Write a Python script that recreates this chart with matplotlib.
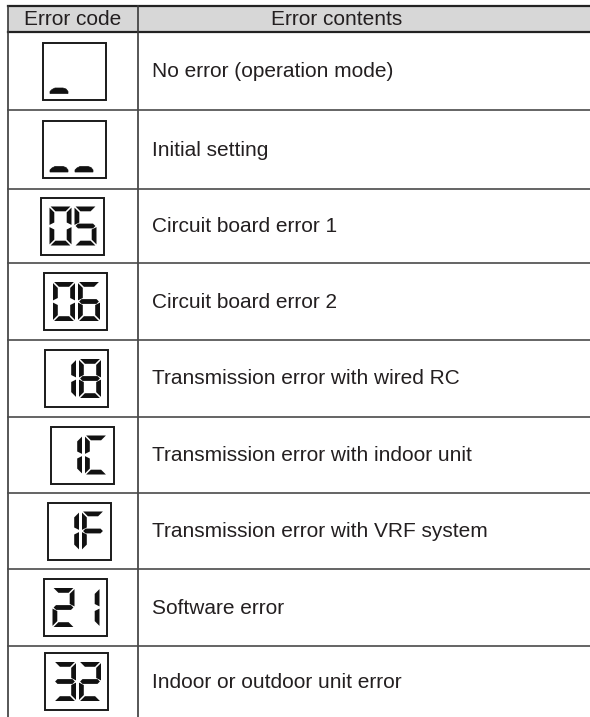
import matplotlib
matplotlib.use("Agg")
import matplotlib.pyplot as plt
from matplotlib.patches import Rectangle, Polygon

plt.rcParams['font.family'] = ['Liberation Sans', 'DejaVu Sans']

# table contents
headers = ["Error code", "Error contents"]
codes = ["_ ", "__", "05", "06", "18", "1C", "1F", "21", "32"]
contents = ["No error (operation mode)",
            "Initial setting",
            "Circuit board error 1",
            "Circuit board error 2",
            "Transmission error with wired RC",
            "Transmission error with indoor unit",
            "Transmission error with VRF system",
            "Software error",
            "Indoor or outdoor unit error"]

# which segments light up for each character
SEGMENTS = {'0': 'abcdef', '1': 'bc', '2': 'abdeg', '3': 'abcdg',
            '5': 'acdfg', '6': 'acdefg', '8': 'abcdefg',
            'C': 'adef', 'F': 'aefg', '_': '', ' ': ''}

# layout (pixels, figure is 590x717)
W, H = 590, 717
left_x, div_x = 8, 138
head_top, head_bot = 6, 32
row_edges = [32, 110, 189, 263, 340, 417, 493, 569, 646, 717]
box_cx = [74.5, 74.5, 72, 75.5, 76.5, 82.5, 79.5, 75, 76.5]
box_w, box_h = 63, 57
cell_w, cell_h, thick, gap = 22, 39, 4.8, 1.1

line_col = '#3a3a3a'
ink = '#111111'
text_col = '#231f20'


def seg_polys(x, y, segs):
    # trapezoid outer segments, hexagon middle one
    t, g = thick, gap
    mid = y + cell_h / 2.0
    r = x + cell_w
    b = y + cell_h
    polys = {
        'a': [(x + g, y), (r - g, y), (r - g - t, y + t), (x + g + t, y + t)],
        'd': [(x + g, b), (r - g, b), (r - g - t, b - t), (x + g + t, b - t)],
        'f': [(x, y + g), (x, mid - g), (x + t, mid - g - t / 2), (x + t, y + g + t)],
        'e': [(x, mid + g), (x, b - g), (x + t, b - g - t), (x + t, mid + g + t / 2)],
        'b': [(r, y + g), (r, mid - g), (r - t, mid - g - t / 2), (r - t, y + g + t)],
        'c': [(r, mid + g), (r, b - g), (r - t, b - g - t), (r - t, mid + g + t / 2)],
        'g': [(x + g, mid), (x + g + t / 2, mid - t / 2), (r - g - t / 2, mid - t / 2),
              (r - g, mid), (r - g - t / 2, mid + t / 2), (x + g + t / 2, mid + t / 2)],
    }
    return [polys[s] for s in segs]


def blob(x, y):
    # the little dash shown when there is no code, y = bottom edge
    return [(x - 2, y), (x + 16, y), (x + 16, y - 2), (x + 14, y - 4.5),
            (x + 11, y - 5.5), (x + 3, y - 5.5), (x, y - 4), (x - 2, y - 2)]


fig = plt.figure(figsize=(5.9, 7.17), dpi=100)
ax = fig.add_axes([0, 0, 1, 1])
ax.set_xlim(0, W)
ax.set_ylim(H, 0)
ax.axis('off')

# header band
ax.add_patch(Rectangle((left_x, head_top), W - left_x, head_bot - head_top,
                       facecolor='#d7d7d7', edgecolor='none'))
ax.plot([left_x, W], [head_top, head_top], color='#222222', lw=1.6)
ax.plot([left_x, W], [head_bot, head_bot], color='#222222', lw=1.6)
ax.text((left_x + div_x) / 2, (head_top + head_bot) / 2 + 0.5, headers[0],
        ha='center', va='center', fontsize=15, color=text_col)
ax.text(337, (head_top + head_bot) / 2 + 0.5, headers[1],
        ha='center', va='center', fontsize=15, color=text_col)

# vertical rules
ax.plot([left_x, left_x], [head_top, H], color=line_col, lw=1.2)
ax.plot([div_x, div_x], [head_top, H], color=line_col, lw=1.2)

for i, (code, txt) in enumerate(zip(codes, contents)):
    y0, y1 = row_edges[i], row_edges[i + 1]
    cy = (y0 + y1) / 2.0
    if i < len(codes) - 1:
        ax.plot([left_x, W], [y1, y1], color='#4a4a4a', lw=1.2)
    ax.text(152, cy + 0.5, txt, ha='left', va='center', fontsize=15, color=text_col)

    bx = box_cx[i] - box_w / 2.0
    by = cy - box_h / 2.0
    ax.add_patch(Rectangle((bx, by), box_w, box_h, facecolor='white',
                           edgecolor='#1a1a1a', lw=1.4))
    for k, ch in enumerate(code):
        cx = bx + 9 + k * (cell_w + 3)
        cyy = by + 9
        for p in seg_polys(cx, cyy, SEGMENTS[ch]):
            ax.add_patch(Polygon(p, closed=True, facecolor=ink, edgecolor='none'))
        if ch == '_':
            ax.add_patch(Polygon(blob(cx, by + box_h - 6), closed=True,
                                 facecolor=ink, edgecolor=ink, lw=0.5))

fig.savefig('out.png', dpi=100)
